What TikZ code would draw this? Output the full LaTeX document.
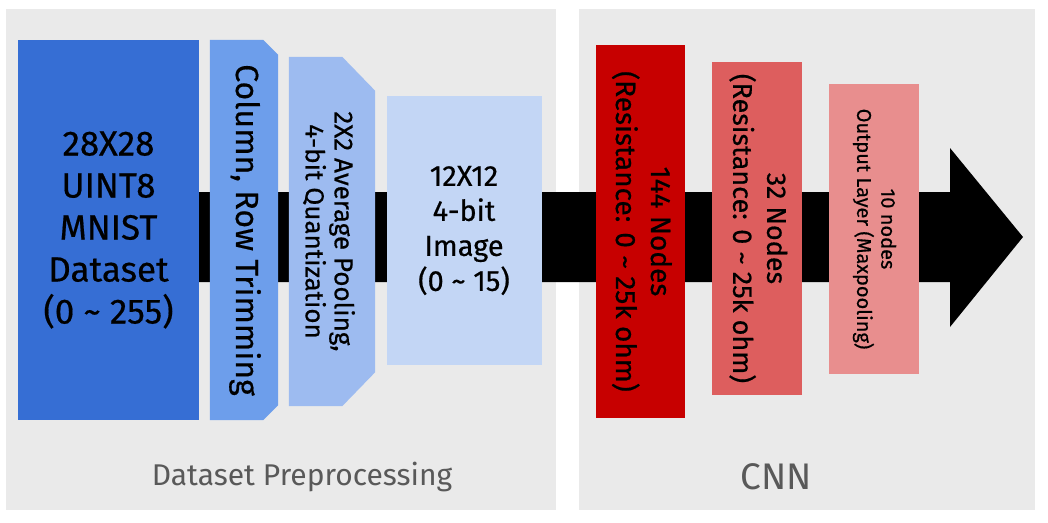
\documentclass[tikz,border=0pt]{standalone}
\usepackage{fontspec}
\setmainfont{Fira Sans}
\newfontfamily\boxfont{Fira Sans}[FakeBold=0.5]
\usepackage{graphicx}
\usepackage{tikz}

\definecolor{panelgray}{HTML}{EAEAEA}
\definecolor{labelgray}{HTML}{595959}
\definecolor{blueA}{HTML}{366ED4}
\definecolor{blueB}{HTML}{6D9EEB}
\definecolor{blueC}{HTML}{9DBBF0}
\definecolor{blueD}{HTML}{C3D6F5}
\definecolor{redA}{HTML}{C70000}
\definecolor{redB}{HTML}{DD5E5E}
\definecolor{redC}{HTML}{E88E8E}

\pgfdeclarelayer{back}
\pgfdeclarelayer{shade}
\pgfsetlayers{back,shade,main}

\newcommand{\vtext}[1]{\rotatebox{-90}{\begin{tabular}{@{}c@{}}#1\end{tabular}}}

\begin{document}
\begin{tikzpicture}[x=1pt,y=-1pt,inner sep=0pt]
  \tikzstyle{panel}=[rectangle,fill=panelgray]
  \tikzstyle{box}=[rectangle,align=center]
  \tikzstyle{caption}=[text=labelgray]
  \useasboundingbox (0,0) rectangle (1048,522);

  \node [box,fill=blueA,minimum width=181pt,minimum height=380pt,font=\boxfont\fontsize{35}{42}\selectfont] (data) at (108.5,230)
    {28X28\\UINT8\\MNIST\\Dataset\\(0 \~{} 255)};
  \node [box,minimum width=68pt,minimum height=380pt,font=\boxfont\fontsize{32}{40}\selectfont] (trim) at (244,230)
    {\vtext{Column, Row Trimming}};
  \node [box,minimum width=86pt,minimum height=349pt,font=\boxfont\fontsize{26}{29}\selectfont] (pool) at (332,231.5)
    {\vtext{2X2 Average Pooling,\\4-bit Quantization}\kern12pt};
  \node [box,fill=blueD,minimum width=155pt,minimum height=269pt,font=\boxfont\fontsize{29}{35}\selectfont] (img) at (464,230.5)
    {12X12\\4-bit\\Image\\(0 \~{} 15)};
  \node [box,fill=redA,minimum width=89pt,minimum height=373pt,font=\boxfont\fontsize{28}{35}\selectfont] (hidA) at (640.5,231.5)
    {\vtext{144 Nodes\\(Resistance: 0 \~{} 25k ohm)}};
  \node [box,fill=redB,minimum width=90pt,minimum height=333pt,font=\boxfont\fontsize{27}{34}\selectfont] (hidB) at (757,228.5)
    {\vtext{32 Nodes\\(Resistance: 0 \~{} 25k ohm)}};
  \node [box,fill=redC,minimum width=90pt,minimum height=290pt,font=\boxfont\fontsize{20}{24}\selectfont] (outl) at (874,229)
    {\vtext{10 nodes\\Output Layer (Maxpooling)}};
  \coordinate (tip) at (1023,237);

  \begin{pgfonlayer}{back}
    \node [panel,minimum width=550pt,minimum height=501pt] (prep) at (281,259.5) {};
    \node [panel,minimum width=456pt,minimum height=501pt] (cnn) at (807,259.5) {};
    \node [caption,font=\fontsize{30}{36}\selectfont] (preplabel) at (302,477) {Dataset Preprocessing};
    \node [caption,font=\fontsize{37}{44}\selectfont] (cnnlabel) at (776,477) {CNN};
    \fill[black] (data.center |- 0,192) -- (950,192) -- (950,148) -- (tip)
      -- (950,327) -- (950,282) -- (data.center |- 0,282) -- cycle;
  \end{pgfonlayer}

  \begin{pgfonlayer}{shade}
    \fill[blueB] (trim.north west) -- ([xshift=-15pt]trim.north east) -- ([yshift=-15pt]trim.north east)
      -- ([yshift=15pt]trim.south east) -- ([xshift=-15pt]trim.south east) -- (trim.south west) -- cycle;
    \fill[blueC] (pool.north west) -- ([xshift=-33pt]pool.north east) -- ([yshift=-34pt]pool.north east)
      -- ([yshift=34pt]pool.south east) -- ([xshift=-33pt]pool.south east) -- (pool.south west) -- cycle;
  \end{pgfonlayer}
\end{tikzpicture}
\end{document}
